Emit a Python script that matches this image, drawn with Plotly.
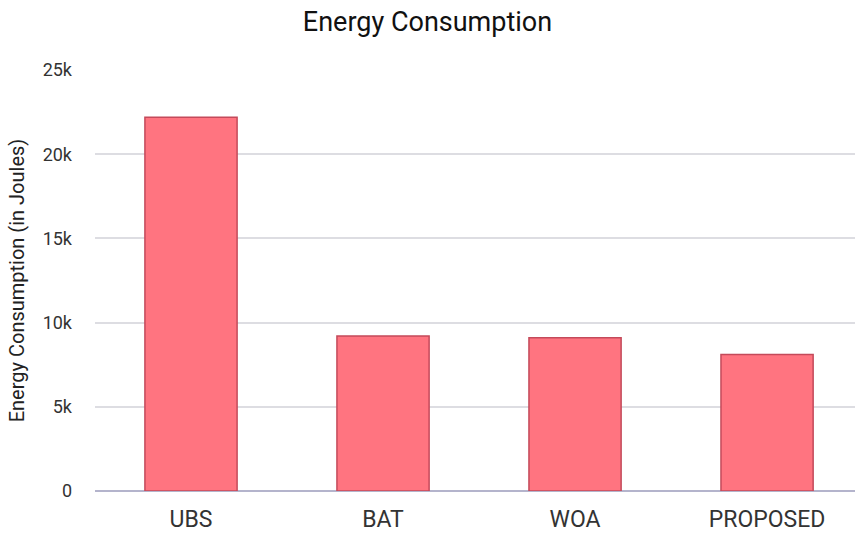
import plotly.graph_objects as go

categories = ["UBS", "BAT", "WOA", "PROPOSED"]
energy = [22200, 9200, 9100, 8100]
tick_vals = [0, 5000, 10000, 15000, 20000, 25000]
tick_text = ["0", "5k", "10k", "15k", "20k", "25k"]

fig = go.Figure(go.Bar(
    x=categories, y=energy, width=0.48,
    marker=dict(color="#FF7480", line=dict(color="#C44A5A", width=1.5)),
))

fig.update_layout(
    width=855, height=533,
    margin=dict(l=95, r=0, t=70, b=42),
    paper_bgcolor="white", plot_bgcolor="white",
    title=dict(text="Energy Consumption", x=0.5, xanchor="center", y=0.96, yanchor="middle",
               font=dict(family="Roboto", size=27, color="#111")),
    showlegend=False,
    font=dict(family="Roboto"),
)
fig.update_xaxes(
    range=[-0.5, 3.458], showgrid=False, showline=False,
    tickfont=dict(size=23, color="#333"), ticklabelstandoff=12,
)
fig.update_yaxes(
    range=[0, 25000], tickvals=tick_vals, ticktext=tick_text,
    showgrid=True, gridcolor="#DDDDE2", gridwidth=1.5,
    zeroline=True, zerolinecolor="#B4B4CC", zerolinewidth=2,
    tickfont=dict(size=18, color="#333"), ticklabelstandoff=22,
    title=dict(text="Energy Consumption (in Joules)", font=dict(size=20, color="#222"), standoff=12),
)

fig.write_html("out.html")
